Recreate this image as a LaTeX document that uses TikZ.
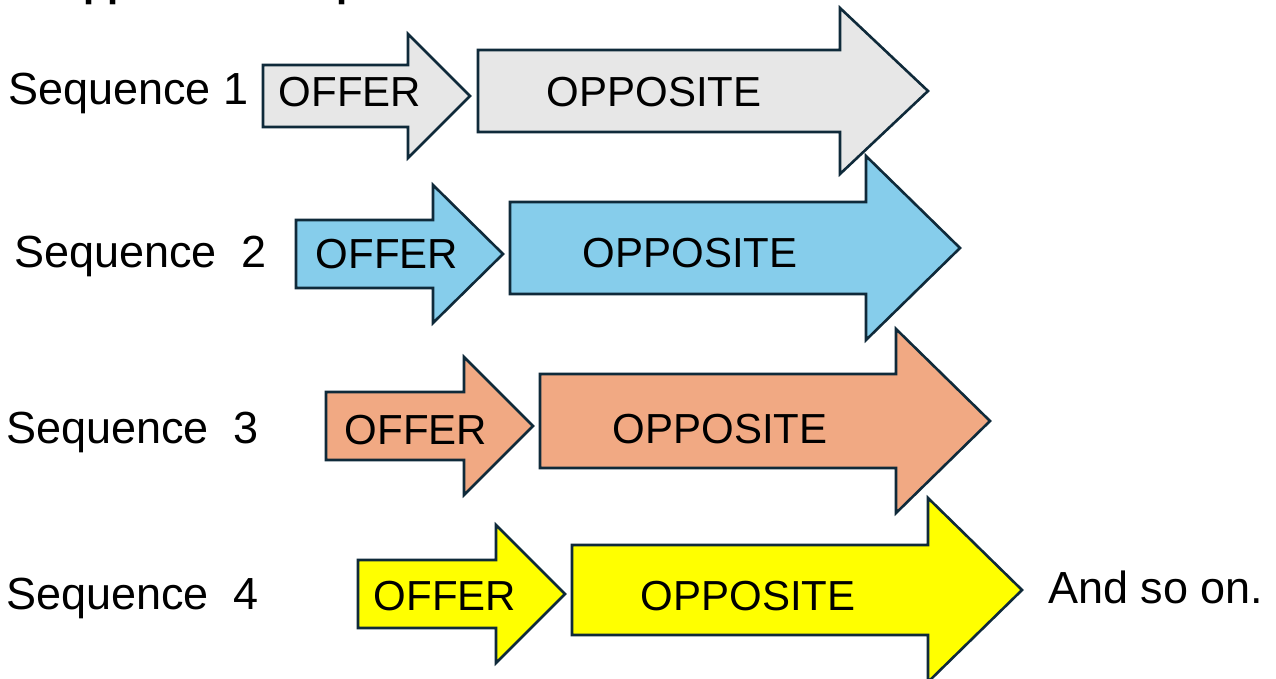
\documentclass[tikz,border=0pt]{standalone}
\usepackage{fontspec}
\setmainfont{Liberation Sans}
\definecolor{edge}{HTML}{0F2A3A}
\definecolor{grayfill}{HTML}{E7E7E7}
\definecolor{bluefill}{HTML}{86CDEB}
\definecolor{orangefill}{HTML}{F1A983}
\definecolor{yellowfill}{HTML}{FFFF00}
% #1 fill, #2 left x, #3 head base x, #4 tip x, #5 centre y, #6 half body, #7 half head
\newcommand\arrowpoly[7]{%
  \draw[arrowbox, fill=#1] (#2,#5-#6) -- (#3,#5-#6) -- (#3,#5-#7) -- (#4,#5)
    -- (#3,#5+#7) -- (#3,#5+#6) -- (#2,#5+#6) -- cycle;}
\tikzset{
  arrowbox/.style={draw=edge, line width=2.6pt, line join=miter},
  txt/.style={font=\fontsize{42}{48}\selectfont, inner sep=0pt, anchor=base},
  lbl/.style={font=\fontsize{45}{52}\selectfont, inner sep=0pt, anchor=base west},
}
\begin{document}
\begin{tikzpicture}[x=1pt,y=-1pt]
\useasboundingbox (0,0) rectangle (1276,679);
\clip (0,0) rectangle (1276,679);
\fill[white] (0,0) rectangle (1276,679);
\node[lbl, font=\bfseries\fontsize{40}{48}\selectfont] (title) at (10,-3) {of opposite offer pairs};
% row 1
\arrowpoly{grayfill}{263}{408}{470}{96}{31}{62}
\arrowpoly{grayfill}{478}{840}{928}{91}{41}{83}
\node[lbl] (s1) at (8,105) {Sequence 1};
\node[txt] (o1) at (350,107) {OFFER};
\node[txt] (p1) at (654,107) {OPPOSITE};
% row 2
\arrowpoly{bluefill}{296}{433}{503}{254}{34}{69}
\arrowpoly{bluefill}{510}{866}{960}{248}{46}{92}
\node[lbl] (s2) at (14,267) {Sequence\ \ 2};
\node[txt] (o2) at (387,268) {OFFER};
\node[txt] (p2) at (690,267) {OPPOSITE};
% row 3
\arrowpoly{orangefill}{326}{464}{533}{426}{34}{69}
\arrowpoly{orangefill}{540}{896}{990}{421}{47}{92}
\node[lbl] (s3) at (6,443) {Sequence\ \ 3};
\node[txt] (o3) at (416,444) {OFFER};
\node[txt] (p3) at (720,443) {OPPOSITE};
% row 4
\arrowpoly{yellowfill}{358}{496}{565}{594}{34}{69}
\arrowpoly{yellowfill}{572}{928}{1022}{590}{45}{92}
\node[lbl] (s4) at (6,609) {Sequence\ \ 4};
\node[txt] (o4) at (445,610) {OFFER};
\node[txt] (p4) at (748,610) {OPPOSITE};
\node[lbl] (more) at (1048,603) {And so on.};
\end{tikzpicture}
\end{document}
